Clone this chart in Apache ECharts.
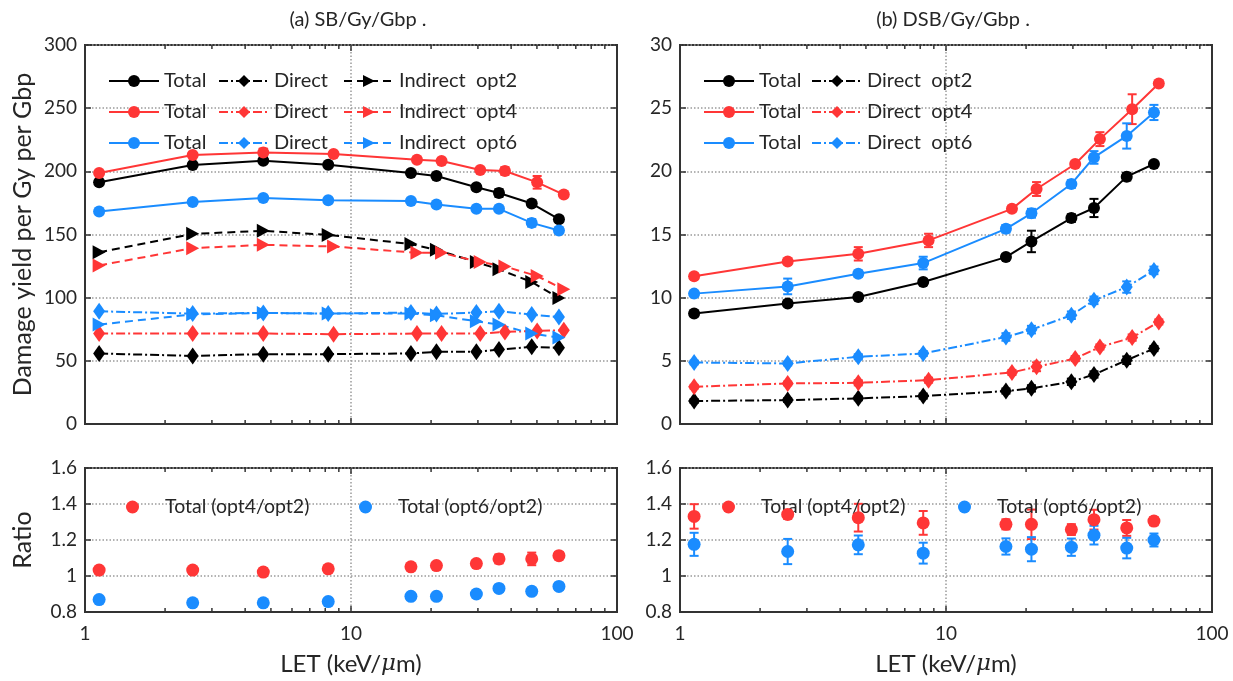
<!DOCTYPE html>
<html><head><meta charset="utf-8">
<script src="https://cdn.jsdelivr.net/npm/echarts@6/dist/echarts.min.js"></script>
<style>html,body{margin:0;padding:0;background:#fff}#c{width:1233px;height:681px}</style>
</head><body><div id="c"></div>
<script>
// ---------- data ----------
const LET_opt2 = [1.13, 2.54, 4.68, 8.21, 16.8, 20.95, 29.6, 36.0, 47.8, 60.5];
const LET_opt4 = [1.13, 2.54, 4.68, 8.6, 17.7, 21.9, 30.6, 37.9, 50.1, 63.1];
const LET_opt6 = [1.13, 2.54, 4.68, 8.21, 16.8, 20.95, 29.6, 36.0, 47.8, 60.5];
const LET_ratio = [1.13, 2.54, 4.68, 8.21, 16.8, 20.95, 29.6, 36.0, 47.8, 60.5];

const SB_total_opt2 = [191.3, 205.0, 208.4, 205.3, 198.7, 196.3, 187.4, 182.9, 174.5, 162.1];
const SB_total_opt4 = [198.7, 212.9, 215.0, 213.7, 209.2, 208.2, 201.0, 200.3, 191.3, 181.6];
const SB_total_opt6 = [168.2, 175.8, 178.9, 177.1, 176.6, 173.7, 170.3, 170.3, 159.2, 153.2];
const SB_direct_opt2 = [55.8, 53.9, 55.3, 55.3, 55.8, 57.1, 57.1, 58.9, 61.1, 60.3];
const SB_direct_opt4 = [71.6, 71.6, 71.6, 71.1, 71.6, 71.6, 71.6, 72.9, 73.7, 74.2];
const SB_direct_opt6 = [89.2, 87.4, 87.9, 87.4, 88.2, 87.1, 88.2, 89.2, 86.6, 84.7];
const SB_indirect_opt2 = [136.0, 150.5, 152.9, 149.7, 142.4, 137.9, 128.2, 122.4, 112.4, 99.7];
const SB_indirect_opt4 = [125.5, 139.2, 141.8, 140.5, 135.5, 135.5, 128.2, 124.7, 117.1, 106.6];
const SB_indirect_opt6 = [78.7, 86.8, 87.9, 87.4, 87.4, 86.1, 81.3, 78.7, 71.6, 68.4];
const SB_total_err_opt2 = [1, 1, 1, 1, 1, 1.5, 2, 3, 2, 2];
const SB_total_err_opt4 = [1, 1, 3, 1, 1, 1, 1, 3, 5, 1.5];
const SB_total_err_opt6 = [1, 1, 1, 1, 1, 1, 1, 1, 3, 2];

const DSB_total_opt2 = [8.74, 9.53, 10.05, 11.24, 13.21, 14.45, 16.3, 17.1, 19.58, 20.58];
const DSB_total_opt4 = [11.7, 12.87, 13.47, 14.53, 17.03, 18.6, 20.58, 22.55, 24.92, 26.95];
const DSB_total_opt6 = [10.32, 10.89, 11.89, 12.74, 15.45, 16.68, 19.0, 21.1, 22.8, 24.66];
const DSB_direct_opt2 = [1.82, 1.89, 2.03, 2.21, 2.61, 2.82, 3.34, 3.92, 5.05, 5.97];
const DSB_direct_opt4 = [2.95, 3.21, 3.26, 3.47, 4.08, 4.53, 5.18, 6.1, 6.84, 8.08];
const DSB_direct_opt6 = [4.87, 4.79, 5.32, 5.58, 6.89, 7.47, 8.61, 9.79, 10.84, 12.16];
const DSB_total_err_opt2 = [0.2, 0.15, 0.2, 0.2, 0.2, 0.85, 0.3, 0.72, 0.3, 0.15];
const DSB_total_err_opt4 = [0.2, 0.15, 0.53, 0.53, 0.2, 0.55, 0.2, 0.55, 1.18, 0.2];
const DSB_total_err_opt6 = [0.2, 0.62, 0.25, 0.5, 0.3, 0.35, 0.3, 0.5, 1.0, 0.6];
const DSB_direct_err_opt2 = [0.15, 0.15, 0.15, 0.2, 0.2, 0.25, 0.25, 0.25, 0.3, 0.2];
const DSB_direct_err_opt4 = [0.15, 0.15, 0.2, 0.2, 0.2, 0.35, 0.2, 0.2, 0.25, 0.2];
const DSB_direct_err_opt6 = [0.15, 0.15, 0.2, 0.2, 0.3, 0.3, 0.3, 0.3, 0.45, 0.3];

const SB_ratio_opt4 = [1.033, 1.033, 1.022, 1.04, 1.051, 1.058, 1.069, 1.095, 1.095, 1.113];
const SB_ratio_opt6 = [0.869, 0.851, 0.851, 0.858, 0.887, 0.887, 0.9, 0.931, 0.915, 0.942];
const SB_ratio_err_opt4 = [0.01, 0.01, 0.02, 0.01, 0.01, 0.015, 0.02, 0.025, 0.035, 0.02];
const SB_ratio_err_opt6 = [0.01, 0.01, 0.015, 0.01, 0.01, 0.015, 0.02, 0.02, 0.02, 0.02];
const DSB_ratio_opt4 = [1.331, 1.342, 1.324, 1.295, 1.287, 1.287, 1.258, 1.313, 1.267, 1.305];
const DSB_ratio_opt6 = [1.176, 1.136, 1.173, 1.127, 1.164, 1.149, 1.16, 1.227, 1.155, 1.2];
const DSB_ratio_err_opt4 = [0.068, 0.025, 0.077, 0.066, 0.028, 0.082, 0.03, 0.055, 0.044, 0.023];
const DSB_ratio_err_opt6 = [0.064, 0.07, 0.052, 0.058, 0.045, 0.067, 0.048, 0.052, 0.057, 0.036];

const X_MINOR_TICKS = [2, 3, 4, 5, 6, 7, 8, 9, 10, 20, 30, 40, 50, 60, 70, 80, 90];
const TITLES = ['(a) SB/Gy/Gbp .', '(b) DSB/Gy/Gbp .'];
const Y_NAME_TOP = 'Damage yield per Gy per Gbp';
const Y_NAME_BOTTOM = 'Ratio';
const X_NAME = 'LET (keV/{i|μ}m)';
const LABELS = {
  'SB Total opt2': 'Total', 'SB Total opt4': 'Total', 'SB Total opt6': 'Total',
  'SB Direct opt2': 'Direct', 'SB Direct opt4': 'Direct', 'SB Direct opt6': 'Direct',
  'SB Indirect opt2': 'Indirect  opt2', 'SB Indirect opt4': 'Indirect  opt4', 'SB Indirect opt6': 'Indirect  opt6',
  'DSB Total opt2': 'Total', 'DSB Total opt4': 'Total', 'DSB Total opt6': 'Total',
  'DSB Direct opt2': 'Direct  opt2', 'DSB Direct opt4': 'Direct  opt4', 'DSB Direct opt6': 'Direct  opt6',
  'SB R4': 'Total (opt4/opt2)', 'SB R6': 'Total (opt6/opt2)',
  'DSB R4': 'Total (opt4/opt2)', 'DSB R6': 'Total (opt6/opt2)'
};

// ---------- style ----------
const FONT = 'Lato, "Open Sans", sans-serif';
const TXT = '#262626';
const AX = '#333333';
const BLACK = '#000000', RED = '#ff3636', BLUE = '#1a8cff';
const TRI = 'path://M0,0 L10,5 L0,10 Z';
const SYM = { total: 'circle', direct: 'diamond', indirect: TRI };
const SIZE = { total: 12, direct: [12, 17], indirect: [13, 14] };
const DASH = { total: 'solid', direct: [9, 3, 2, 3], indirect: [8, 5] };
const GRIDS = [
  { left: 85, top: 45, width: 532, height: 379 },
  { left: 680, top: 45, width: 532, height: 379 },
  { left: 85, top: 468, width: 532, height: 144 },
  { left: 680, top: 468, width: 532, height: 144 }
];
const YR = [[0, 300, 50], [0, 30, 5], [0.8, 1.6, 0.2], [0.8, 1.6, 0.2]];

function zip(xs, ys) { return xs.map((x, i) => [x, ys[i]]); }
function lineS(name, xs, ys, gi, color, kind) {
  return {
    type: 'line', name, xAxisIndex: gi, yAxisIndex: gi, data: zip(xs, ys),
    symbol: SYM[kind], symbolSize: SIZE[kind], showSymbol: true,
    itemStyle: { color, opacity: 1 }, lineStyle: { color, width: 2, type: DASH[kind] }, z: 4
  };
}
function errS(xs, ys, es, gi, color) {
  return {
    type: 'custom', silent: true, xAxisIndex: gi, yAxisIndex: gi, z: 3,
    data: xs.map((x, i) => [x, ys[i] - es[i], ys[i] + es[i]]),
    encode: { x: 0, y: [1, 2] },
    renderItem: (p, api) => {
      const x = api.value(0);
      const a = api.coord([x, api.value(1)]);
      const b = api.coord([x, api.value(2)]);
      const w = 4.5, st = { stroke: color, lineWidth: 2 };
      return { type: 'group', children: [
        { type: 'line', shape: { x1: a[0], y1: a[1], x2: b[0], y2: b[1] }, style: st },
        { type: 'line', shape: { x1: a[0] - w, y1: a[1], x2: a[0] + w, y2: a[1] }, style: st },
        { type: 'line', shape: { x1: b[0] - w, y1: b[1], x2: b[0] + w, y2: b[1] }, style: st }
      ] };
    }
  };
}
function scatS(name, xs, ys, gi, color) {
  return { type: 'scatter', name, xAxisIndex: gi, yAxisIndex: gi, data: zip(xs, ys),
    symbol: 'circle', symbolSize: 13, itemStyle: { color, opacity: 1 }, z: 4 };
}
function tickS(gi) {
  return {
    type: 'custom', silent: true, xAxisIndex: gi, yAxisIndex: gi, z: 6,
    data: X_MINOR_TICKS.map(v => [v, YR[gi][0]]),
    encode: { x: 0, y: 1 },
    renderItem: (p, api) => {
      const x = api.coord([api.value(0), api.value(1)])[0];
      const cs = p.coordSys;
      const L = api.value(0) === 10 ? 6 : 4;
      const st = { stroke: AX, lineWidth: 1.5 };
      return { type: 'group', children: [
        { type: 'line', shape: { x1: x, y1: cs.y + cs.height, x2: x, y2: cs.y + cs.height - L }, style: st },
        { type: 'line', shape: { x1: x, y1: cs.y, x2: x, y2: cs.y + L }, style: st }
      ] };
    }
  };
}

const dotted = { color: '#9a9a9a', width: 1.5, type: [1.5, 2] };
const xAxis = GRIDS.map((g, gi) => ({
  type: 'log', logBase: 10, min: 1, max: 100, gridIndex: gi,
  axisLine: { show: true, lineStyle: { color: AX, width: 2 } },
  axisTick: { show: false },
  splitLine: { show: true, lineStyle: dotted },
  axisLabel: { show: gi >= 2, fontFamily: FONT, fontSize: 19, color: TXT, margin: 12, formatter: v => String(v) },
  name: gi >= 2 ? X_NAME : '', nameLocation: 'middle', nameGap: 40,
  nameTextStyle: { fontFamily: FONT, fontSize: 24, color: TXT,
    rich: { i: { fontFamily: '"DejaVu Serif", serif', fontStyle: 'italic', fontSize: 23, color: TXT } } }
}));
const yAxis = [];
GRIDS.forEach((g, gi) => {
  const [mn, mx, iv] = YR[gi];
  yAxis.push({
    type: 'value', gridIndex: gi, min: mn, max: mx, interval: iv,
    axisLine: { show: true, lineStyle: { color: AX, width: 2 } },
    axisTick: { show: true, inside: true, length: 6, lineStyle: { color: AX, width: 1.5 } },
    splitLine: { show: true, lineStyle: dotted },
    axisLabel: { fontFamily: FONT, fontSize: 19, color: TXT, margin: 8,
      formatter: v => String(+v.toFixed(1)) },
    name: gi === 0 ? Y_NAME_TOP : (gi === 2 ? Y_NAME_BOTTOM : ''),
    nameLocation: 'middle', nameGap: 50,
    nameTextStyle: { fontFamily: FONT, fontSize: 25, color: TXT }
  });
});
GRIDS.forEach((g, gi) => {
  const [mn, mx, iv] = YR[gi];
  yAxis.push({
    type: 'value', gridIndex: gi, min: mn, max: mx, interval: iv, position: 'right',
    axisLine: { show: true, lineStyle: { color: AX, width: 2 } },
    axisTick: { show: true, inside: true, length: 6, lineStyle: { color: AX, width: 1.5 } },
    splitLine: { show: false }, axisLabel: { show: false }
  });
});

const series = [
  errS(LET_opt2, SB_total_opt2, SB_total_err_opt2, 0, BLACK),
  errS(LET_opt4, SB_total_opt4, SB_total_err_opt4, 0, RED),
  errS(LET_opt6, SB_total_opt6, SB_total_err_opt6, 0, BLUE),
  lineS('SB Direct opt2', LET_opt2, SB_direct_opt2, 0, BLACK, 'direct'),
  lineS('SB Direct opt4', LET_opt4, SB_direct_opt4, 0, RED, 'direct'),
  lineS('SB Direct opt6', LET_opt6, SB_direct_opt6, 0, BLUE, 'direct'),
  lineS('SB Indirect opt2', LET_opt2, SB_indirect_opt2, 0, BLACK, 'indirect'),
  lineS('SB Indirect opt4', LET_opt4, SB_indirect_opt4, 0, RED, 'indirect'),
  lineS('SB Indirect opt6', LET_opt6, SB_indirect_opt6, 0, BLUE, 'indirect'),
  lineS('SB Total opt2', LET_opt2, SB_total_opt2, 0, BLACK, 'total'),
  lineS('SB Total opt4', LET_opt4, SB_total_opt4, 0, RED, 'total'),
  lineS('SB Total opt6', LET_opt6, SB_total_opt6, 0, BLUE, 'total'),

  errS(LET_opt2, DSB_total_opt2, DSB_total_err_opt2, 1, BLACK),
  errS(LET_opt4, DSB_total_opt4, DSB_total_err_opt4, 1, RED),
  errS(LET_opt6, DSB_total_opt6, DSB_total_err_opt6, 1, BLUE),
  errS(LET_opt2, DSB_direct_opt2, DSB_direct_err_opt2, 1, BLACK),
  errS(LET_opt4, DSB_direct_opt4, DSB_direct_err_opt4, 1, RED),
  errS(LET_opt6, DSB_direct_opt6, DSB_direct_err_opt6, 1, BLUE),
  lineS('DSB Total opt2', LET_opt2, DSB_total_opt2, 1, BLACK, 'total'),
  lineS('DSB Total opt4', LET_opt4, DSB_total_opt4, 1, RED, 'total'),
  lineS('DSB Total opt6', LET_opt6, DSB_total_opt6, 1, BLUE, 'total'),
  lineS('DSB Direct opt2', LET_opt2, DSB_direct_opt2, 1, BLACK, 'direct'),
  lineS('DSB Direct opt4', LET_opt4, DSB_direct_opt4, 1, RED, 'direct'),
  lineS('DSB Direct opt6', LET_opt6, DSB_direct_opt6, 1, BLUE, 'direct'),

  errS(LET_ratio, SB_ratio_opt4, SB_ratio_err_opt4, 2, RED),
  errS(LET_ratio, SB_ratio_opt6, SB_ratio_err_opt6, 2, BLUE),
  scatS('SB R4', LET_ratio, SB_ratio_opt4, 2, RED),
  scatS('SB R6', LET_ratio, SB_ratio_opt6, 2, BLUE),
  errS(LET_ratio, DSB_ratio_opt4, DSB_ratio_err_opt4, 3, RED),
  errS(LET_ratio, DSB_ratio_opt6, DSB_ratio_err_opt6, 3, BLUE),
  scatS('DSB R4', LET_ratio, DSB_ratio_opt4, 3, RED),
  scatS('DSB R6', LET_ratio, DSB_ratio_opt6, 3, BLUE),

  tickS(0), tickS(1), tickS(2), tickS(3)
];

const fmt = n => LABELS[n];
const legTxt = { fontFamily: FONT, fontSize: 20, color: TXT };
function legCol(names, left, top) {
  return { data: names, orient: 'vertical', left, top, itemWidth: 50, itemHeight: 15, itemGap: 11,
    selectedMode: false, formatter: fmt, textStyle: legTxt };
}
function legDot(name, left, top) {
  return { data: [name], left, top, icon: 'circle', itemWidth: 13, itemHeight: 13, selectedMode: false,
    itemStyle: { opacity: 1 },
    formatter: fmt, textStyle: Object.assign({}, legTxt, { fontSize: 19.5, padding: [0, 0, 0, 21] }) };
}
const legend = [
  legCol(['SB Total opt2', 'SB Total opt4', 'SB Total opt6'], 103, 66),
  legCol(['SB Direct opt2', 'SB Direct opt4', 'SB Direct opt6'], 213, 66),
  legCol(['SB Indirect opt2', 'SB Indirect opt4', 'SB Indirect opt6'], 338, 66),
  legCol(['DSB Total opt2', 'DSB Total opt4', 'DSB Total opt6'], 698, 66),
  legCol(['DSB Direct opt2', 'DSB Direct opt4', 'DSB Direct opt6'], 806, 66),
  legDot('SB R4', 121, 492), legDot('SB R6', 354, 492),
  legDot('DSB R4', 717, 492), legDot('DSB R6', 953, 492)
];

const option = {
  animation: false,
  backgroundColor: '#ffffff',
  title: [
    { text: TITLES[0], left: 353, top: 5, textAlign: 'center', textStyle: { fontFamily: FONT, fontSize: 20, fontWeight: 'normal', color: TXT } },
    { text: TITLES[1], left: 948, top: 5, textAlign: 'center', textStyle: { fontFamily: FONT, fontSize: 20, fontWeight: 'normal', color: TXT } }
  ],
  grid: GRIDS.map(g => Object.assign({ show: true, borderColor: AX, borderWidth: 2, containLabel: false }, g)),
  xAxis, yAxis, legend, series
};
const chart = echarts.init(document.getElementById('c'), null, { renderer: 'canvas' });
chart.setOption(option);
</script>
</body></html>
